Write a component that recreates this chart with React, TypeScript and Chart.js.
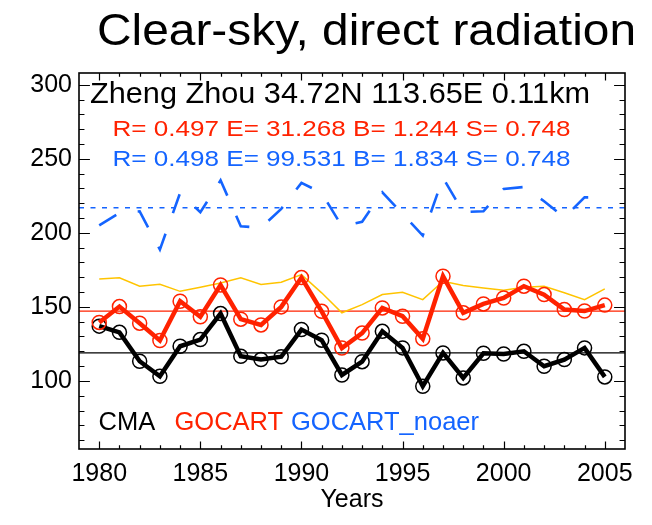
import { useEffect, useRef } from "react";
import { Chart, registerables } from "chart.js";

Chart.register(...registerables);

// ---- data -------------------------------------------------------------
const years = [
  1980, 1981, 1982, 1983, 1984, 1985, 1986, 1987, 1988, 1989, 1990, 1991, 1992,
  1993, 1994, 1995, 1996, 1997, 1998, 1999, 2000, 2001, 2002, 2003, 2004, 2005,
];

// CMA station observations (black, circles)
const cma = [
  137.0, 132.8, 113.3, 103.1, 123.4, 127.9, 145.5, 116.6, 114.4, 116.3, 134.7,
  127.5, 104.0, 113.0, 133.5, 122.3, 96.4, 118.9, 102.0, 118.7, 118.2, 120.0,
  109.9, 114.4, 122.3, 102.7,
];

// GOCART (red, circles)
const gocart = [
  139.5, 150.2, 139.0, 127.3, 153.8, 143.3, 164.8, 141.7, 137.8, 150.0, 169.8,
  147.0, 122.2, 132.3, 149.3, 143.7, 128.4, 170.7, 146.0, 152.0, 156.0, 164.0,
  158.3, 148.2, 147.2, 151.2,
];

// thin gold companion curve
const gocartAlt = [
  168.9, 169.6, 163.9, 165.3, 160.5, 163.3, 166.2, 169.6, 165.1, 166.6, 171.8,
  159.5, 146.0, 151.5, 158.3, 159.9, 154.9, 167.3, 164.4, 162.8, 161.2, 163.3,
  163.9, 159.5, 154.9, 162.2,
];

// GOCART without aerosol (blue, dashed)
const gocartNoaer = [
  205.1, 213.5, 214.5, 188.7, 227.0, 213.9, 235.5, 204.5, 203.4, 216.2, 233.8,
  227.0, 204.5, 207.5, 227.4, 212.8, 198.2, 237.2, 214.0, 214.6, 229.7, 231.0,
  221.4, 210.5, 224.0, 224.0,
];

// period means drawn as horizontal reference lines
const cmaMean = 118.9;
const gocartMean = 147.1;
const noaerMean = 216.9;

// axes
const xMin = 1979;
const xMax = 2006;
const yMin = 54;
const yMax = 308;
const xMajorTicks = [1980, 1985, 1990, 1995, 2000, 2005];
const yMajorTicks = [100, 150, 200, 250, 300];
const xMinorStep = 1;
const yMinorStep = 10;

// text
const titleText = "Clear-sky, direct radiation";
const stationText = "Zheng Zhou 34.72N 113.65E 0.11km";
const gocartStats = "R= 0.497 E= 31.268 B= 1.244 S= 0.748";
const noaerStats = "R= 0.498 E= 99.531 B= 1.834 S= 0.748";
const legendNames = ["CMA", "GOCART", "GOCART_noaer"];
const xTitle = "Years";

// ---- styling ----------------------------------------------------------
const FONT = '"Liberation Sans", Arial, Helvetica, sans-serif';
const BLACK = "#000000";
const RED = "#ff2200";
const BLUE = "#1464ff";
const GOLD = "#ffc400";

const pts = (vals: number[]) => years.map((yr, i) => ({ x: yr, y: vals[i] }));
const flat = (v: number) => [
  { x: xMin, y: v },
  { x: xMax, y: v },
];

function drawFitted(
  ctx: CanvasRenderingContext2D,
  text: string,
  left: number,
  baseline: number,
  size: number,
  width: number | null,
  color: string
) {
  ctx.save();
  ctx.font = `${size}px ${FONT}`;
  ctx.fillStyle = color;
  ctx.textAlign = "left";
  ctx.textBaseline = "alphabetic";
  ctx.translate(left, baseline);
  if (width !== null) {
    const w = ctx.measureText(text).width;
    ctx.scale(width / w, 1);
  }
  ctx.fillText(text, 0, 0);
  ctx.restore();
}

// box frame with inward ticks on all four sides, plus the text annotations
const framePlugin = {
  id: "idlFrame",
  afterDraw(chart: any) {
    const { ctx, chartArea: a, scales } = chart;
    const xs = scales.x;
    const ys = scales.y;
    const xLen = 0.02 * (a.bottom - a.top);
    const yLen = 0.02 * (a.right - a.left);

    ctx.save();
    ctx.strokeStyle = BLACK;
    ctx.lineWidth = 1.2;
    ctx.beginPath();
    for (let v = xMajorTicks[0]; v <= xMajorTicks[xMajorTicks.length - 1]; v += xMinorStep) {
      const px = Math.round(xs.getPixelForValue(v)) + 0.5;
      const len = xMajorTicks.includes(v) ? xLen : xLen / 2;
      ctx.moveTo(px, a.bottom);
      ctx.lineTo(px, a.bottom - len);
      ctx.moveTo(px, a.top);
      ctx.lineTo(px, a.top + len);
    }
    for (let v = 60; v <= yMajorTicks[yMajorTicks.length - 1]; v += yMinorStep) {
      const py = Math.round(ys.getPixelForValue(v)) + 0.5;
      const len = yMajorTicks.includes(v) ? yLen : yLen / 2;
      ctx.moveTo(a.left, py);
      ctx.lineTo(a.left + len, py);
      ctx.moveTo(a.right, py);
      ctx.lineTo(a.right - len, py);
    }
    ctx.stroke();

    ctx.lineWidth = 1.6;
    ctx.strokeRect(a.left, a.top, a.right - a.left, a.bottom - a.top);
    ctx.restore();

    // title and in-plot annotations
    drawFitted(ctx, titleText, 97, 45, 44, 539, BLACK);
    drawFitted(ctx, stationText, 90, 102.5, 29, 500, BLACK);
    drawFitted(ctx, gocartStats, 112.5, 136, 22, 458, RED);
    drawFitted(ctx, noaerStats, 112.5, 166, 22, 458, BLUE);
    drawFitted(ctx, legendNames[0], 98.5, 430, 25.5, null, BLACK);
    drawFitted(ctx, legendNames[1], 174.5, 430, 25.5, null, RED);
    drawFitted(ctx, legendNames[2], 291, 430, 25.5, null, BLUE);
  },
};

export default function App() {
  const canvasRef = useRef<HTMLCanvasElement>(null);

  useEffect(() => {
    const canvas = canvasRef.current;
    if (!canvas) return;

    const chart = new Chart(canvas, {
      type: "line",
      data: {
        datasets: [
          {
            label: "GOCART",
            data: pts(gocart),
            borderColor: RED,
            borderWidth: 4.5,
            pointRadius: 7,
            pointBorderWidth: 1.5,
            pointBorderColor: RED,
            pointBackgroundColor: "rgba(0,0,0,0)",
            tension: 0,
            order: 0,
          },
          {
            label: "CMA",
            data: pts(cma),
            borderColor: BLACK,
            borderWidth: 4.5,
            pointRadius: 7,
            pointBorderWidth: 1.5,
            pointBorderColor: BLACK,
            pointBackgroundColor: "rgba(0,0,0,0)",
            tension: 0,
            order: 1,
          },
          {
            label: "GOCART alt",
            data: pts(gocartAlt),
            borderColor: GOLD,
            borderWidth: 1.5,
            pointRadius: 0,
            tension: 0,
            order: 2,
          },
          {
            label: "GOCART_noaer",
            data: pts(gocartNoaer),
            borderColor: BLUE,
            borderWidth: 2.6,
            borderDash: [20, 22],
            pointRadius: 0,
            tension: 0,
            order: 3,
          },
          {
            label: "GOCART mean",
            data: flat(gocartMean),
            borderColor: RED,
            borderWidth: 1.3,
            pointRadius: 0,
            order: 4,
          },
          {
            label: "CMA mean",
            data: flat(cmaMean),
            borderColor: BLACK,
            borderWidth: 1.3,
            pointRadius: 0,
            order: 5,
          },
          {
            label: "GOCART_noaer mean",
            data: flat(noaerMean),
            borderColor: BLUE,
            borderWidth: 1.5,
            borderDash: [5, 6.5],
            pointRadius: 0,
            order: 6,
          },
        ],
      },
      options: {
        animation: false,
        responsive: false,
        maintainAspectRatio: false,
        events: [],
        layout: { padding: { left: 0, top: 73, right: 27, bottom: 0 } },
        plugins: {
          legend: { display: false },
          title: { display: false },
          tooltip: { enabled: false },
        },
        scales: {
          x: {
            type: "linear",
            min: xMin,
            max: xMax,
            grid: { display: false, drawTicks: false },
            border: { display: false },
            afterBuildTicks: (axis: any) => {
              axis.ticks = xMajorTicks.map((v) => ({ value: v }));
            },
            afterFit: (axis: any) => {
              axis.height = 76;
            },
            ticks: {
              autoSkip: false,
              maxRotation: 0,
              padding: 10,
              color: BLACK,
              font: { family: FONT, size: 25 },
              callback: (v: any) => String(v),
            },
            title: {
              display: true,
              text: xTitle,
              color: BLACK,
              font: { family: FONT, size: 25 },
              padding: { top: 0, bottom: 10 },
            },
          },
          y: {
            type: "linear",
            min: yMin,
            max: yMax,
            grid: { display: false, drawTicks: false },
            border: { display: false },
            afterBuildTicks: (axis: any) => {
              axis.ticks = yMajorTicks.map((v) => ({ value: v }));
            },
            afterFit: (axis: any) => {
              axis.width = 79;
            },
            ticks: {
              autoSkip: false,
              padding: 7,
              color: BLACK,
              font: { family: FONT, size: 25 },
              callback: (v: any) => String(v),
            },
          },
        },
      },
      plugins: [framePlugin],
    } as any);

    return () => chart.destroy();
  }, []);

  return (
    <div
      style={{
        position: "fixed",
        left: 0,
        top: 0,
        width: 652,
        height: 525,
        background: "#ffffff",
      }}
    >
      <canvas
        ref={canvasRef}
        width={652}
        height={525}
        style={{ display: "block", width: 652, height: 525 }}
      />
    </div>
  );
}
